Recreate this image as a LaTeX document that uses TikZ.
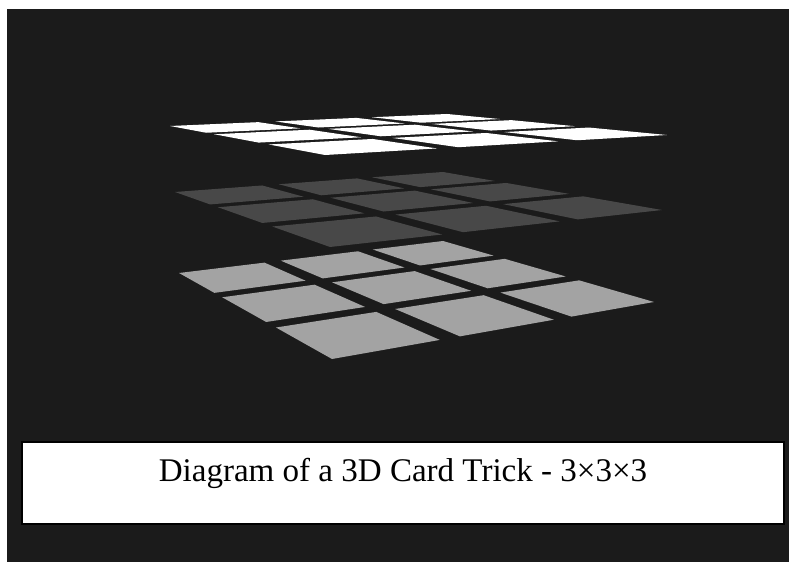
\documentclass[tikz,border=0pt]{standalone}
\usepackage{fontspec}
\setmainfont{Liberation Serif}

\definecolor{bgdark}{RGB}{27,27,27}
\definecolor{topcard}{RGB}{255,255,255}
\definecolor{midcard}{RGB}{72,72,72}
\definecolor{lowcard}{RGB}{163,163,163}

% point (u,v) of the unit square -> perspective point of the current layer
\newcommand{\cardpt}[3]{%
  \pgfmathsetmacro{\hmw}{\hmg*#1+\hmh*#2+1}%
  \pgfmathsetmacro{\hmx}{(\hma*#1+\hmb*#2+\hmc)/\hmw}%
  \pgfmathsetmacro{\hmy}{(\hmd*#1+\hme*#2+\hmf)/\hmw}%
  \coordinate (#3) at (\hmx,\hmy);}

\tikzset{
  capbox/.style={draw=black, line width=1pt, fill=white},
  captext/.style={font=\fontsize{18.8}{22}\selectfont, anchor=base}
}

\begin{document}
\begin{tikzpicture}[x=2cm, y=-2cm]

  % background
  \fill[white] (0,0) rectangle (7.89,5.62);
  \fill[bgdark] (0.07,0.09) rectangle (7.89,5.62);
  \useasboundingbox (0,0) rectangle (7.89,5.62);

  % the three layers, lowest first (corners: left, front, right, back)
  \foreach \cardcol/\xa/\ya/\xb/\yb/\xc/\yc/\xd/\yd in {
      lowcard/1.79/2.73/3.32/3.59/6.54/3.02/4.43/2.41,
      midcard/1.75/1.92/3.30/2.47/6.62/2.10/4.43/1.72,
      topcard/1.70/1.26/3.25/1.55/6.67/1.35/4.47/1.14}{
    \pgfmathsetmacro{\hsx}{\xa-\xb+\xc-\xd}
    \pgfmathsetmacro{\hsy}{\ya-\yb+\yc-\yd}
    \pgfmathsetmacro{\hdxa}{\xb-\xc}
    \pgfmathsetmacro{\hdxb}{\xd-\xc}
    \pgfmathsetmacro{\hdya}{\yb-\yc}
    \pgfmathsetmacro{\hdyb}{\yd-\yc}
    \pgfmathsetmacro{\hden}{\hdxa*\hdyb-\hdxb*\hdya}
    \pgfmathsetmacro{\hmg}{(\hsx*\hdyb-\hdxb*\hsy)/\hden}
    \pgfmathsetmacro{\hmh}{(\hdxa*\hsy-\hsx*\hdya)/\hden}
    \pgfmathsetmacro{\hma}{\xb-\xa+\hmg*\xb}
    \pgfmathsetmacro{\hmb}{\xd-\xa+\hmh*\xd}
    \pgfmathsetmacro{\hmc}{\xa}
    \pgfmathsetmacro{\hmd}{\yb-\ya+\hmg*\yb}
    \pgfmathsetmacro{\hme}{\yd-\ya+\hmh*\yd}
    \pgfmathsetmacro{\hmf}{\ya}
    % 3 x 3 cards, gap 0.2 of a card
    \foreach \i in {0,1,2}{
      \foreach \j in {0,1,2}{
        \pgfmathsetmacro{\ua}{1.2*\i/3.4}
        \pgfmathsetmacro{\ub}{(1.2*\i+1)/3.4}
        \pgfmathsetmacro{\va}{1.2*\j/3.4}
        \pgfmathsetmacro{\vb}{(1.2*\j+1)/3.4}
        \cardpt{\ua}{\va}{c1}
        \cardpt{\ub}{\va}{c2}
        \cardpt{\ub}{\vb}{c3}
        \cardpt{\ua}{\vb}{c4}
        \fill[fill=\cardcol] (c1) -- (c2) -- (c3) -- (c4) -- cycle;
      }
    }
  }

  % caption
  \draw[capbox] (0.22,4.42) rectangle (7.84,5.24);
  \node[captext] (caption) at (4.03,4.82) {Diagram of a 3D Card Trick - 3×3×3};

\end{tikzpicture}
\end{document}
